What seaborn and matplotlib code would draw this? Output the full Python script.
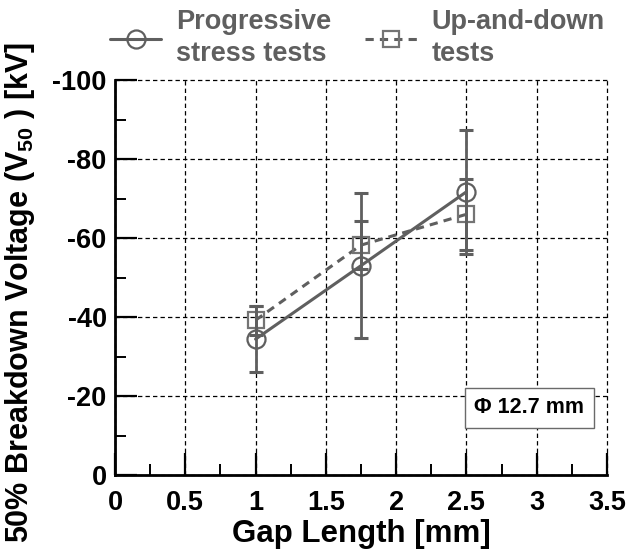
import matplotlib
matplotlib.use("Agg")
import matplotlib.pyplot as plt
from matplotlib.ticker import MultipleLocator, FuncFormatter
import seaborn as sns
import pandas as pd

# Breakdown measurements, 12.7 mm electrodes
gap_mm = [1.0, 1.75, 2.5]
progressive_kv = [-34.4, -53.0, -71.7]
progressive_err = [8.3, 18.4, 15.7]
updown_kv = [-39.2, -58.2, -66.0]
updown_err = [3.7, 6.1, 9.0]
method_labels = ["Progressive\nstress tests", "Up-and-down\ntests"]

df = pd.DataFrame({
    "gap": gap_mm * 2,
    "voltage": progressive_kv + updown_kv,
    "err": progressive_err + updown_err,
    "method": [method_labels[0]] * 3 + [method_labels[1]] * 3,
})

sns.set_theme(style="ticks")
plt.rcParams["font.family"] = ["Liberation Sans", "DejaVu Sans"]
plt.rcParams["font.weight"] = "bold"
plt.rcParams["axes.unicode_minus"] = False
plt.rcParams["mathtext.fontset"] = "custom"
plt.rcParams["mathtext.bf"] = "Liberation Sans:bold"
plt.rcParams["mathtext.rm"] = "Liberation Sans:bold"

GREY = "#5f5f5f"
GREY2 = "#747474"

fig = plt.figure(figsize=(6.26, 5.53), dpi=100)
ax = fig.add_axes([115 / 626, 78 / 553, 492 / 626, 395 / 553])

sns.lineplot(
    data=df, x="gap", y="voltage", hue="method", style="method",
    palette=[GREY, GREY], markers=["o", "s"],
    dashes=[(None, None), (2.7, 2.0)], linewidth=2.2, ax=ax, legend=False,
)

series = [(progressive_kv, progressive_err, GREY, 13),
          (updown_kv, updown_err, GREY2, 12)]
lines = ax.get_lines()[:2]
for line, (_, _, ec, ms) in zip(lines, series):
    line.set_markerfacecolor("none")
    line.set_markeredgecolor(ec)
    line.set_markeredgewidth(1.6)
    line.set_markersize(ms)
    line.set_color(GREY)
lines[1].set_linestyle((0, (2.7, 2.0)))

for vals, errs, _, _ in series:
    ax.errorbar(gap_mm, vals, yerr=errs, fmt="none", ecolor=GREY,
                elinewidth=2.0, capsize=5, capthick=2.2, zorder=3)

ax.set_xlim(0, 3.5)
ax.set_ylim(0, -100)
ax.xaxis.set_major_locator(MultipleLocator(0.5))
ax.xaxis.set_minor_locator(MultipleLocator(0.25))
ax.yaxis.set_major_locator(MultipleLocator(20))
ax.yaxis.set_minor_locator(MultipleLocator(10))
ax.xaxis.set_major_formatter(FuncFormatter(lambda v, p: f"{v:g}"))
ax.yaxis.set_major_formatter(FuncFormatter(lambda v, p: f"{v:g}"))

ax.tick_params(which="major", direction="in", length=15.5, width=1.6,
               labelsize=19.5, color="black", labelcolor="black",
               top=False, right=False)
ax.tick_params(which="minor", direction="in", length=8, width=1.4,
               color="black", top=False, right=False)
ax.tick_params(axis="x", which="major", pad=11)
ax.tick_params(axis="y", which="major", pad=6)

ax.grid(True, which="major", color="black", linewidth=0.9,
        linestyle=(0, (3.5, 2.5)))
ax.set_axisbelow(True)
for gl in ax.get_xgridlines() + ax.get_ygridlines():
    gl.set_clip_on(False)

for side in ("top", "right"):
    ax.spines[side].set_visible(False)
for side in ("left", "bottom"):
    ax.spines[side].set_linewidth(2.0)
    ax.spines[side].set_color("black")

ax.set_xlabel("Gap Length [mm]", fontsize=22.5, fontweight="bold",
              color="black", labelpad=2)
ax.set_ylabel(r"50% Breakdown Voltage (V$_{\mathbf{50}}$ ) [kV]",
              fontsize=22, fontweight="bold", color="black")
ax.yaxis.set_label_coords(-0.158, 0.463)

ax.text(0.842, 0.17, "Φ 12.7 mm", transform=ax.transAxes, ha="center",
        va="center", fontsize=15.5, fontweight="bold", color="black",
        bbox=dict(boxstyle="square,pad=0.45", facecolor="white",
                  edgecolor="#6a6a6a", linewidth=1.0), zorder=5)

leg = fig.legend(lines, method_labels, loc="upper left",
                 bbox_to_anchor=(110 / 626, 1 - 9 / 553), ncol=2,
                 frameon=False, handlelength=1.9, handletextpad=0.55,
                 columnspacing=1.25, borderpad=0, borderaxespad=0,
                 prop={"size": 19.5, "weight": "bold"}, labelcolor=GREY)
for t in leg.get_texts():
    t.set_linespacing(1.3)

fig.savefig("out.png", dpi=100)
